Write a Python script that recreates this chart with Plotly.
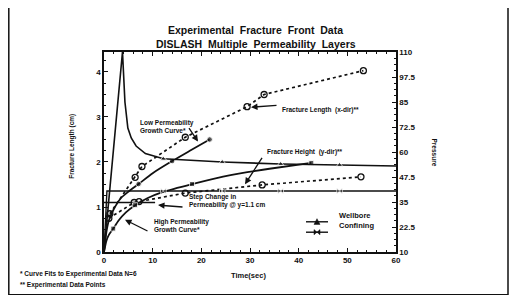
import plotly.graph_objects as go

# ---------------- data ----------------
# Wellbore pressure (right axis)
wellbore_t = [0, 3.8, 4.3, 4.9, 5.6, 6.6, 8.5, 12.2, 24.3, 36.3, 48.4, 60]
wellbore_p = [10, 110, 85, 72, 67, 63, 59.2, 56.6, 55.0, 54.0, 53.5, 53.0]
wellbore_marked = [0, 0, 0, 0, 0, 0, 0, 1, 1, 1, 1, 0]

# Confining pressure (right axis)
confining_t = [0, 0.6, 12.2, 24.3, 36.3, 48.4, 60]
confining_p = [10, 40.5, 40.5, 40.5, 40.5, 40.5, 40.5]
confining_marked = [0, 0, 1, 1, 1, 1, 0]

# Low permeability growth curve* (curve fit, left axis)
lowperm_t = [0, 0.5, 1.0, 2.0, 3.5, 5.0, 7.1, 10.0, 14.0, 18.0, 21.7]
lowperm_y = [0, 0.45, 0.70, 0.95, 1.20, 1.34, 1.51, 1.75, 2.02, 2.27, 2.50]
lowperm_marked = [0, 0, 0, 0, 0, 0, 1, 0, 1, 0, 1]

# High permeability growth curve* (curve fit, left axis)
highperm_t = [0, 0.5, 1.0, 1.9, 3.0, 4.5, 6.4, 9.0, 12.0, 18.1, 26.0, 34.0, 42.6]
highperm_y = [0, 0.25, 0.38, 0.52, 0.70, 0.88, 1.04, 1.20, 1.33, 1.51, 1.71, 1.85, 1.98]
highperm_marked = [0, 0, 0, 1, 0, 0, 1, 0, 0, 1, 0, 0, 1]

# Fracture length (x-dir)** experimental points
length_t = [1.2, 6.4, 7.8, 16.7, 29.4, 32.9, 53.3]
length_y = [0.85, 1.66, 1.90, 2.55, 3.23, 3.50, 4.03]

# Fracture height (y-dir)** experimental points
height_t = [1.0, 6.2, 7.2, 16.7, 32.5, 52.8]
height_y = [0.75, 1.10, 1.12, 1.31, 1.49, 1.67]

# Step change in permeability @ y = 1.1 cm
step_t = [0, 10.5]
step_y = [1.1, 1.1]

# axis ticks
x_ticks = [0, 10, 20, 30, 40, 50, 60]
left_ticks = [0, 1, 2, 3, 4]
right_ticks = [10, 22.5, 35, 47.5, 60, 72.5, 85, 97.5, 110]
right_labels = ["10", "22.5", "35", "47.5", "60", "72.5", "85", "97.5", "110"]

# ---------------- figure ----------------
FONT = "Liberation Sans"
INK = "#111111"

# The page body has an 8px margin, so the figure is drawn 8px smaller and
# all reference-pixel positions below are expressed relative to the plot area.
PL, PT, PW, PH = 104, 52, 292, 192  # plot area in window pixels


def px(X):
    return (X - PL) / PW


def py(Y):
    return (PT + PH - Y) / PH


def sizes(flags, s):
    return [s if f else 0 for f in flags]


fig = go.Figure()

fig.add_trace(go.Scatter(x=step_t, y=step_y, mode="lines",
                         line=dict(color=INK, width=1.4), showlegend=False))
fig.add_trace(go.Scatter(x=length_t, y=length_y, mode="lines+markers",
                         line=dict(color=INK, width=1.7, dash="dot"),
                         marker=dict(symbol="circle-open", size=6, color=INK, line=dict(width=1.3)),
                         showlegend=False))
fig.add_trace(go.Scatter(x=height_t, y=height_y, mode="lines+markers",
                         line=dict(color=INK, width=1.7, dash="dot"),
                         marker=dict(symbol="circle-open", size=6, color=INK, line=dict(width=1.3)),
                         showlegend=False))
fig.add_trace(go.Scatter(x=lowperm_t, y=lowperm_y, mode="lines+markers",
                         line=dict(color=INK, width=1.8, shape="spline", smoothing=0.6),
                         marker=dict(symbol="circle", size=sizes(lowperm_marked, 5.5), color=INK),
                         showlegend=False))
fig.add_trace(go.Scatter(x=highperm_t, y=highperm_y, mode="lines+markers",
                         line=dict(color=INK, width=1.8, shape="spline", smoothing=0.6),
                         marker=dict(symbol="square", size=sizes(highperm_marked, 5), color=INK),
                         showlegend=False))
fig.add_trace(go.Scatter(x=wellbore_t, y=wellbore_p, yaxis="y2", mode="lines+markers",
                         name="Wellbore",
                         line=dict(color=INK, width=1.6),
                         marker=dict(symbol="triangle-up", size=sizes(wellbore_marked, 5.5), color=INK),
                         showlegend=False))
fig.add_trace(go.Scatter(x=confining_t, y=confining_p, yaxis="y2", mode="lines+markers",
                         name="Confining",
                         line=dict(color=INK, width=1.4),
                         marker=dict(symbol="bowtie", size=sizes(confining_marked, 5.5), color=INK),
                         showlegend=False))

axis_common = dict(showline=True, linecolor=INK, linewidth=1.5, ticks="inside",
                   tickcolor=INK, showgrid=False, zeroline=False,
                   tickfont=dict(family=FONT, size=8, color=INK, weight="bold"))

fig.update_layout(
    width=512, height=287,
    margin=dict(l=PL - 8, r=520 - PL - PW, t=PT - 8, b=295 - PT - PH - 8),
    paper_bgcolor="white", plot_bgcolor="white",
    font=dict(family=FONT, color=INK),
    xaxis=dict(range=[0, 60], tickvals=x_ticks, ticklen=4, mirror="ticks",
               minor=dict(dtick=2, ticks="inside", ticklen=2, tickcolor=INK),
               **axis_common),
    yaxis=dict(range=[0, 4.444], tickvals=left_ticks, ticklen=4,
               minor=dict(dtick=0.25, ticks="inside", ticklen=2, tickcolor=INK),
               **axis_common),
    yaxis2=dict(range=[10, 110], tickvals=right_ticks, ticktext=right_labels,
                overlaying="y", side="right", ticklen=4,
                minor=dict(tick0=10, dtick=3.125, ticks="inside", ticklen=2, tickcolor=INK),
                **axis_common),
    showlegend=False,
)

# outer frame
fig.add_shape(type="rect", xref="paper", yref="paper",
              x0=px(8.8), x1=px(508), y0=py(285), y1=py(8.8),
              line=dict(color=INK, width=1.5))


def ann(text, x, y, size=7, **kw):
    fig.add_annotation(text=text, xref="paper", yref="paper",
                       x=px(x), y=py(y), showarrow=False,
                       font=dict(family=FONT, size=size, color=INK, weight="bold"), **kw)


ann("Experimental&nbsp; Fracture&nbsp; Front&nbsp; Data", 255, 23, size=10.5)
ann("DISLASH&nbsp; Multiple&nbsp; Permeability&nbsp; Layers", 256, 37, size=10.5)
ann("Fracture Length (cm)", 66, 143, size=6.5, textangle=-90)
ann("Pressure", 440, 148, size=6.5, textangle=90)
ann("Time(sec)", 248, 273, size=7.5)
ann("* Curve Fits to Experimental Data N=6", 18, 271, size=6.5, xanchor="left")
ann("** Experimental Data Points", 18, 281, size=6.5, xanchor="left")


def arrow_note(text, tx, ty, hx, hy, sx, sy):
    # text block at pixel (tx, ty); arrow from (sx, sy) to head (hx, hy)
    ann(text, tx, ty, size=6.5, xanchor="left", align="left")
    fig.add_annotation(xref="paper", yref="paper", axref="pixel", ayref="pixel",
                       x=px(hx), y=py(hy), ax=sx - hx, ay=sy - hy, text="",
                       showarrow=True, arrowhead=2, arrowsize=1, arrowwidth=1.3,
                       arrowcolor=INK)


arrow_note("Low Permeability<br>Growth Curve*", 138, 114, 198, 138, 188, 123)
arrow_note("Fracture Length  (x-dir)**", 280, 102, 251, 105, 278, 103)
arrow_note("Fracture Height  (y-dir)**", 265, 148, 245, 179, 263, 151)
arrow_note("Step Change in<br>Permeability @ y=1.1 cm", 187, 205, 158, 199, 184, 201)
arrow_note("High Permeability<br>Growth Curve*", 152, 228, 125, 213, 149, 225)

# custom legend (keys drawn in window pixels)
for ly, label in [(215, "Wellbore"), (225, "Confining")]:
    fig.add_shape(type="line", xref="paper", yref="paper",
                  x0=px(306), x1=px(328), y0=py(ly), y1=py(ly),
                  line=dict(color=INK, width=1.4))
    ann(label, 337, ly, size=7.5, xanchor="left")


def pathstr(points):
    return "M " + " L ".join(f"{px(a):.5f},{py(b):.5f}" for a, b in points) + " Z"


fig.add_shape(type="path", xref="paper", yref="paper",
              path=pathstr([(314, 217.5), (320, 217.5), (317, 212)]),
              fillcolor=INK, line=dict(color=INK, width=0.5))
fig.add_shape(type="path", xref="paper", yref="paper",
              path=pathstr([(314, 222.5), (320, 227.5), (320, 222.5), (314, 227.5)]),
              fillcolor=INK, line=dict(color=INK, width=0.5))

fig.write_html("out.html")
